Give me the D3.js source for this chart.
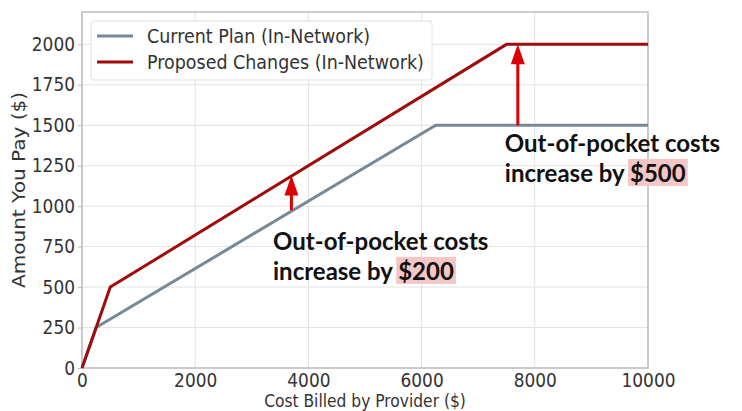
<!DOCTYPE html>
<html>
<head>
<meta charset="utf-8">
<script src="https://cdn.jsdelivr.net/npm/d3@7"></script>
<style>
  body { margin: 0; background: #fff; }
  svg { display: block; }
</style>
</head>
<body>
<svg id="chart" width="742" height="411"></svg>
<script>
// data
const currentX = [0, 250, 6250, 10000];
const currentY = [0, 250, 1500, 1500];
const proposedX = [0, 500, 7500, 10000];
const proposedY = [0, 500, 2000, 2000];
const seriesNames = ["Current Plan (In-Network)", "Proposed Changes (In-Network)"];
const xTicks = [0, 2000, 4000, 6000, 8000, 10000];
const yTicks = [0, 250, 500, 750, 1000, 1250, 1500, 1750, 2000];
// arrows: x position, from, to
const arrowX = [3700, 7700];
const arrowFrom = [975, 1500];
const arrowTo = [1190, 2000];
const noteLines = [["Out-of-pocket costs", "increase by "], ["Out-of-pocket costs", "increase by "]];
const noteAmount = ["$200", "$500"];
const noteAt = [[3375, 730], [7470, 1335]];

const margin = {top: 12, right: 94, bottom: 43, left: 82};
const width = 742, height = 411;
const w = width - margin.left - margin.right, h = height - margin.top - margin.bottom;

const colCurrent = "#778899", colProposed = "#9e0c0c", colArrow = "#dd0000";
const stretch = 1.12; // the source text is a bit taller than wide

let svg = d3.select("#chart");
let g = svg.append("g").attr("transform", `translate(${margin.left},${margin.top})`);

let x = d3.scaleLinear().domain([0, 10000]).range([0, w]);
let y = d3.scaleLinear().domain([0, 2200]).range([h, 0]);

// puts a text at (px,py) stretched vertically
function placeText(sel, px, py, s = stretch) {
  return sel.attr("x", 0).attr("y", 0)
    .attr("transform", `translate(${px},${py}) scale(1,${s})`);
}

// grid
g.append("g").selectAll("line").data(xTicks).join("line")
  .attr("x1", d => x(d)).attr("x2", d => x(d)).attr("y1", 0).attr("y2", h)
  .attr("stroke", "#e3e3e3").attr("stroke-width", 1);
g.append("g").selectAll("line").data(yTicks).join("line")
  .attr("x1", 0).attr("x2", w).attr("y1", d => y(d)).attr("y2", d => y(d))
  .attr("stroke", "#e3e3e3").attr("stroke-width", 1);

// axes
let xAxis = g.append("g").attr("transform", `translate(0,${h})`)
  .call(d3.axisBottom(x).tickValues(xTicks).tickFormat(d3.format("d")).tickSize(0).tickPadding(5));
let yAxis = g.append("g")
  .call(d3.axisLeft(y).tickValues(yTicks).tickFormat(d3.format("d")).tickSize(4).tickPadding(3));
[xAxis, yAxis].forEach(a => {
  a.select(".domain").remove();
  a.selectAll("text").attr("font-family", "DejaVu Sans").attr("font-size", 17).attr("fill", "#333")
    .attr("transform", `scale(1,${stretch})`)
    .attr("y", function() { return (+d3.select(this).attr("y") || 0) / stretch; });
  a.selectAll("line").attr("stroke", "#bbb");
});

// frame
g.append("rect").attr("width", w).attr("height", h)
  .attr("fill", "none").attr("stroke", "#bdbdbd").attr("stroke-width", 1.5);

// lines
let line = d3.line().x(d => x(d[0])).y(d => y(d[1]));
g.append("path").datum(currentX.map((v, i) => [v, currentY[i]]))
  .attr("d", line).attr("fill", "none").attr("stroke", colCurrent).attr("stroke-width", 3);
g.append("path").datum(proposedX.map((v, i) => [v, proposedY[i]]))
  .attr("d", line).attr("fill", "none").attr("stroke", colProposed).attr("stroke-width", 3);

// arrows
arrowX.forEach((ax, i) => {
  let px = x(ax), y0 = y(arrowFrom[i]), y1 = y(arrowTo[i]);
  g.append("line").attr("x1", px).attr("x2", px).attr("y1", y0).attr("y2", y1 + 18)
    .attr("stroke", colArrow).attr("stroke-width", 3);
  g.append("path")
    .attr("d", `M${px},${y1} L${px - 7},${y1 + 20} L${px + 7},${y1 + 20} Z`)
    .attr("fill", colArrow);
});

// annotations
noteAt.forEach((p, i) => {
  let tx = x(p[0]), ty = y(p[1]);
  let t1 = g.append("text").attr("x", tx).attr("y", ty)
    .attr("font-family", "Lato").attr("font-weight", 700).attr("font-size", 24).attr("fill", "#111")
    .text(noteLines[i][0]);
  let t2 = g.append("text").attr("x", tx).attr("y", ty + 30)
    .attr("font-family", "Lato").attr("font-weight", 700).attr("font-size", 24).attr("fill", "#111");
  t2.append("tspan").text(noteLines[i][1]);
  let amt = t2.append("tspan").text(noteAmount[i]);
  let bb = amt.node().getBBox();
  g.insert("rect", () => t1.node())
    .attr("x", bb.x - 2).attr("y", bb.y + 1).attr("width", bb.width + 4).attr("height", bb.height - 2)
    .attr("fill", "#f5c6c6");
});

// legend
let lg = g.append("g").attr("transform", "translate(9,9)");
lg.append("rect").attr("width", 341).attr("height", 59).attr("rx", 3)
  .attr("fill", "#fff").attr("fill-opacity", 0.9).attr("stroke", "#e0e0e0");
seriesNames.forEach((name, i) => {
  let ly = 15 + i * 26;
  lg.append("line").attr("x1", 6).attr("x2", 42).attr("y1", ly).attr("y2", ly)
    .attr("stroke", i === 0 ? colCurrent : colProposed).attr("stroke-width", 3);
  placeText(lg.append("text"), 56, ly + 7)
    .attr("font-family", "DejaVu Sans").attr("font-size", 17.5).attr("fill", "#333").text(name);
});

// axis titles
placeText(svg.append("text"), margin.left + w / 2, 407, 1.1).attr("text-anchor", "middle")
  .attr("font-family", "DejaVu Sans").attr("font-size", 15.5).attr("fill", "#333")
  .text("Cost Billed by Provider ($)");
svg.append("text").attr("transform", `translate(25,${margin.top + h / 2}) rotate(-90) scale(${stretch + 0.06},1)`)
  .attr("text-anchor", "middle")
  .attr("font-family", "DejaVu Sans").attr("font-size", 17).attr("fill", "#333")
  .text("Amount You Pay ($)");
</script>
</body>
</html>
